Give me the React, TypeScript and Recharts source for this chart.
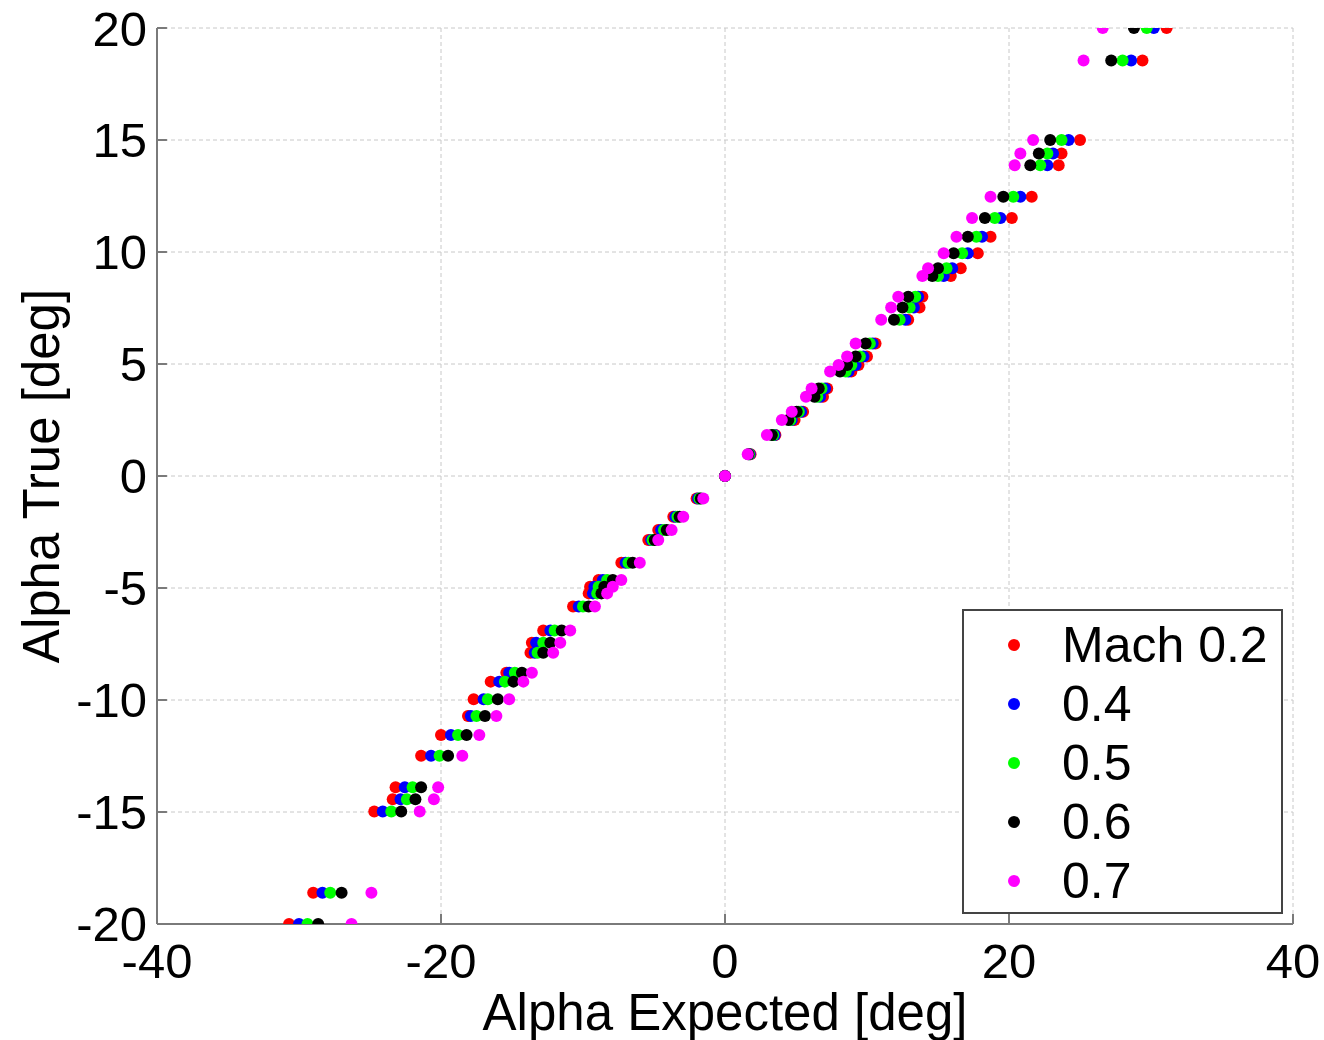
import React from 'react';
import { ScatterChart, Scatter, XAxis, YAxis, CartesianGrid, ReferenceLine } from 'recharts';

// Alpha True levels (deg), shared by every Mach series
const alphaTrue = [
  20, 18.55, 15, 14.4, 13.87, 12.47, 11.52, 10.68, 9.94, 9.27, 8.93, 8.0, 7.52, 6.98, 5.92, 5.33,
  4.96, 4.66, 3.91, 3.54, 2.87, 2.5, 1.83, 0.97, 0, -1.0, -1.82, -2.41, -2.86, -3.87, -4.64, -4.94,
  -5.24, -5.83, -6.9, -7.44, -7.89, -8.78, -9.18, -9.97, -10.71, -11.56, -12.49, -13.9, -14.43,
  -14.98, -18.6, -20,
];

// Alpha Expected (deg) for each Mach number
const mach02 = [
  31.1, 29.4, 25.0, 23.7, 23.5, 21.6, 20.2, 18.7, 17.8, 16.6, 15.9, 13.9, 13.7, 12.9, 10.6, 10.0,
  9.4, 8.9, 7.2, 6.9, 5.5, 4.9, 3.55, 1.8, 0, -2.0, -3.64, -4.7, -5.4, -7.3, -8.9, -9.5,
  -9.6, -10.7, -12.8, -13.6, -13.7, -15.4, -16.5, -17.7, -18.1, -20.0, -21.4, -23.2, -23.4,
  -24.7, -29.0, -30.7,
];
const mach04 = [
  30.2, 28.6, 24.2, 23.1, 22.7, 20.8, 19.4, 18.1, 17.1, 16.0, 15.4, 13.6, 13.3, 12.7, 10.4, 9.75,
  9.2, 8.7, 7.05, 6.7, 5.36, 4.7, 3.5, 1.75, 0, -1.9, -3.5, -4.5, -5.2, -7.0, -8.6, -9.2,
  -9.3, -10.3, -12.3, -13.3, -13.4, -15.2, -15.9, -17.0, -17.9, -19.3, -20.7, -22.55, -22.85,
  -24.1, -28.35, -30.0,
];
const mach05 = [
  29.7, 28.0, 23.7, 22.7, 22.2, 20.3, 19.0, 17.7, 16.7, 15.6, 15.0, 13.4, 13.0, 12.3, 10.2, 9.5,
  8.9, 8.5, 6.8, 6.5, 5.2, 4.6, 3.4, 1.7, 0, -1.8, -3.35, -4.3, -5.1, -6.8, -8.3, -8.9,
  -9.0, -10.0, -12.0, -12.8, -13.2, -14.8, -15.5, -16.7, -17.5, -18.8, -20.1, -22.0, -22.4,
  -23.5, -27.8, -29.4,
];
const mach06 = [
  28.8, 27.2, 22.9, 22.1, 21.5, 19.6, 18.3, 17.1, 16.1, 15.0, 14.6, 12.9, 12.5, 11.9, 9.9, 9.2,
  8.6, 8.1, 6.6, 6.3, 5.05, 4.46, 3.3, 1.65, 0, -1.7, -3.2, -4.1, -4.95, -6.5, -7.9, -8.5,
  -8.7, -9.6, -11.5, -12.3, -12.8, -14.3, -14.9, -16.0, -16.9, -18.2, -19.5, -21.4, -21.8,
  -22.8, -27.0, -28.65,
];
const mach07 = [
  26.6, 25.25, 21.7, 20.8, 20.4, 18.7, 17.4, 16.3, 15.4, 14.3, 13.9, 12.2, 11.7, 11.0, 9.2, 8.6,
  8.0, 7.4, 6.1, 5.7, 4.7, 4.0, 2.95, 1.6, 0, -1.53, -2.94, -3.76, -4.7, -6.0, -7.3, -7.9,
  -8.3, -9.16, -10.9, -11.6, -12.1, -13.6, -14.2, -15.2, -16.1, -17.3, -18.5, -20.2, -20.5,
  -21.5, -24.9, -26.3,
];

const xTicks = [-40, -20, 0, 20, 40];
const yTicks = [-20, -15, -10, -5, 0, 5, 10, 15, 20];

const seriesNames = ['Mach 0.2', '0.4', '0.5', '0.6', '0.7'];
const seriesColors = ['#ff0000', '#0000ff', '#00ff00', '#000000', '#ff00ff'];
const seriesValues = [mach02, mach04, mach05, mach06, mach07];

const FONT = '"Liberation Sans", Arial, sans-serif';
const AXIS_COLOR = '#7a7a7a';

const series = seriesValues.map((vals, i) => ({
  name: seriesNames[i],
  color: seriesColors[i],
  data: vals.map((x, j) => ({ x, y: alphaTrue[j] })),
}));

const dot = (color: string) => (p: any) => <circle cx={p.cx} cy={p.cy} r={6} fill={color} />;

const App = () => {
  return (
    <div style={{ position: 'absolute', left: 0, top: 0, width: 1324, height: 1040, background: '#fff', fontFamily: FONT }}>
      <ScatterChart width={1324} height={1040} margin={{ top: 28, right: 31, bottom: 0, left: 0 }}>
        <CartesianGrid stroke="#c8c8c8" strokeDasharray="4 3" />
        <XAxis
          type="number"
          dataKey="x"
          domain={[-40, 40]}
          ticks={xTicks}
          height={116}
          tickSize={0}
          tickMargin={19}
          tickLine={false}
          axisLine={{ stroke: AXIS_COLOR, strokeWidth: 2 }}
          tick={{ fill: '#000', fontSize: 49, fontFamily: FONT }}
          allowDataOverflow
          label={{
            content: (props: any) => {
              const vb = props.viewBox || {};
              return (
                <text x={vb.x + vb.width / 2} y={vb.y + 106} textAnchor="middle" fontSize={51} fontFamily={FONT} fill="#000">
                  Alpha Expected [deg]
                </text>
              );
            },
          }}
        />
        <YAxis
          type="number"
          dataKey="y"
          domain={[-20, 20]}
          ticks={yTicks}
          width={157}
          tickSize={0}
          tickMargin={10}
          tickLine={false}
          axisLine={{ stroke: AXIS_COLOR, strokeWidth: 2 }}
          tick={{ fill: '#000', fontSize: 49, fontFamily: FONT }}
          allowDataOverflow
          label={{
            content: (props: any) => {
              const vb = props.viewBox || {};
              const cx = vb.x + 41;
              const cy = vb.y + vb.height / 2;
              return (
                <text x={cx} y={cy} transform={`rotate(-90 ${cx} ${cy})`} textAnchor="middle" dominantBaseline="central" fontSize={51} fontFamily={FONT} fill="#000">
                  Alpha True [deg]
                </text>
              );
            },
          }}
        />
        {xTicks.map((t) => (
          <ReferenceLine key={`xt${t}`} segment={[{ x: t, y: -20 }, { x: t, y: -19.55 }]} stroke={AXIS_COLOR} strokeWidth={2} />
        ))}
        {yTicks.map((t) => (
          <ReferenceLine key={`yt${t}`} segment={[{ x: -40, y: t }, { x: -39.3, y: t }]} stroke={AXIS_COLOR} strokeWidth={2} />
        ))}
        {series.map((s) => (
          <Scatter key={s.name} name={s.name} data={s.data} fill={s.color} shape={dot(s.color)} isAnimationActive={false} />
        ))}
      </ScatterChart>

      {/* legend box */}
      <div
        style={{
          position: 'absolute',
          left: 962,
          top: 609,
          width: 317,
          height: 301,
          border: '2px solid #444',
          background: '#fff',
        }}
      >
        {series.map((s, i) => (
          <div
            key={s.name}
            style={{
              position: 'absolute',
              left: 0,
              top: 4.5 + i * 59,
              height: 59,
              display: 'flex',
              alignItems: 'center',
              whiteSpace: 'nowrap',
            }}
          >
            <span
              style={{
                display: 'inline-block',
                width: 12,
                height: 12,
                borderRadius: 6,
                background: s.color,
                marginLeft: 44,
                marginRight: 42,
              }}
            />
            <span style={{ fontSize: 50, lineHeight: '59px', color: '#000' }}>{s.name}</span>
          </div>
        ))}
      </div>
    </div>
  );
};

export default App;
